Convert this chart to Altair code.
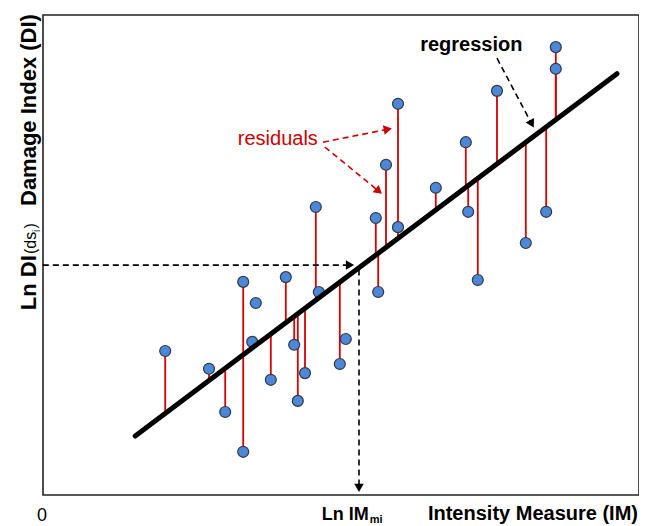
import altair as alt
import pandas as pd

# ---- data (arbitrary units: Ln IM on x, Ln DI on y) ----
pt_x = [2.02, 2.75, 3.02, 3.32, 3.32, 3.53, 3.47, 3.78, 4.03, 4.17, 4.23, 4.35, 4.58, 4.53, 4.93,
        5.03, 5.53, 5.57, 5.70, 5.90, 5.90, 6.53, 7.03, 7.07, 7.23, 7.55, 8.03, 8.37, 8.53, 8.53]
pt_y = [3.00, 2.63, 1.73, 4.44, 0.90, 4.00, 3.19, 2.40, 4.54, 3.13, 1.96, 2.54, 4.23, 6.00, 2.73,
        3.25, 5.77, 4.23, 6.88, 8.15, 5.58, 6.40, 7.35, 5.90, 4.48, 8.42, 5.25, 5.90, 9.33, 8.88]
has_residual = [1, 1, 1, 1, 1, 0, 0, 1, 1, 1, 1, 1, 0, 1, 1,
                0, 1, 1, 1, 1, 0, 1, 1, 1, 1, 1, 1, 1, 1, 1]

reg_intercept = -0.2
reg_slope = 0.94
reg_x = [1.52, 9.55]

# dashed annotation arrows (tail -> head)
arr_x = [-0.02, 5.25, 4.65, 4.68, 7.55]
arr_y = [4.79, 4.70, 7.35, 7.25, 9.10]
arr_x2 = [5.10, 5.25, 5.73, 5.58, 8.13]
arr_y2 = [4.79, 0.15, 7.62, 6.33, 7.73]
arr_col = ["black", "black", "#cc0000", "#cc0000", "black"]
arr_angle = [90, 180, 79, 130, 152]

FONT = "Liberation Sans"
xs = alt.Scale(domain=[-0.017, 9.917], nice=False, zero=False)
ys = alt.Scale(domain=[0, 10], nice=False, zero=False)


def X(f):
    return alt.X(f, type="quantitative", scale=xs, axis=None)


def Y(f):
    return alt.Y(f, type="quantitative", scale=ys, axis=None)


pts = pd.DataFrame({"x": pt_x, "y": pt_y, "r": has_residual})
reg = pd.DataFrame({"x": reg_x})
arrows = pd.DataFrame({"x": arr_x, "y": arr_y, "x2": arr_x2, "y2": arr_y2,
                       "c": arr_col, "a": arr_angle})

fit_expr = f"{reg_slope}*datum.x+({reg_intercept})"

residuals = alt.Chart(pts).transform_filter("datum.r == 1").transform_calculate(
    fit=fit_expr).mark_rule(color="#d40000", strokeWidth=1.8).encode(
    x=X("x"), y=Y("y"), y2="fit:Q")

points = alt.Chart(pts).mark_point(
    filled=True, shape="circle", size=120, fill="#4d87d8", stroke="#2e3a48",
    strokeWidth=1.2, opacity=1).encode(x=X("x"), y=Y("y"))

regline = alt.Chart(reg).transform_calculate(y=fit_expr).mark_line(
    color="black", strokeWidth=5, strokeCap="round").encode(x=X("x"), y=Y("y:Q"))

dashes = alt.Chart(arrows).mark_rule(strokeWidth=1.6, strokeDash=[6, 4]).encode(
    x=X("x"), y=Y("y"), x2="x2:Q", y2="y2:Q", color=alt.Color("c:N", scale=None))

heads = alt.Chart(arrows).mark_point(
    shape="triangle-up", filled=True, size=90, opacity=1).encode(
    x=X("x2"), y=Y("y2"), angle=alt.Angle("a:Q", scale=None),
    color=alt.Color("c:N", scale=None))


def label(text, x, y, size, bold=True, color="black", align="left", angle=0,
          baseline="alphabetic"):
    df = pd.DataFrame({"t": [text], "x": [x], "y": [y]})
    kw = dict(fontSize=size, font=FONT, fontWeight="bold" if bold else "normal",
              color=color, align=align, baseline=baseline)
    if angle:
        kw["angle"] = angle
    return alt.Chart(df).mark_text(**kw).encode(x=X("x"), y=Y("y"), text="t:N")


texts = [
    label("Damage Index (DI)", -0.133, 8.02, 22, align="center", angle=270),
    label("Ln DI", -0.133, 3.85, 22, angle=270),
    label("(ds", -0.133, 5.02, 16, bold=False, angle=270),
    label("i", -0.075, 5.48, 10, bold=False, angle=270),
    label(")", -0.133, 5.55, 16, bold=False, angle=270),
    label("Intensity Measure (IM)", 9.90, -0.52, 20, align="right"),
    label("0", -0.033, -0.54, 18, bold=False, align="center"),
    label("Ln IM", 4.63, -0.52, 18),
    label("mi", 5.43, -0.58, 11),
    label("regression", 6.27, 9.25, 20),
    label("residuals", 3.23, 7.29, 20, bold=False, color="#cc0000"),
]

chart = alt.layer(residuals, points, regline, dashes, heads, *texts).properties(
    width=596, height=480,
    autosize=alt.AutoSizeParams(type="none"),
    padding={"left": 35, "top": 7, "right": 0, "bottom": 31},
).configure_view(stroke="#222222", strokeWidth=1.6)

chart.save("out.html", embed_options={"renderer": "svg", "actions": False})
